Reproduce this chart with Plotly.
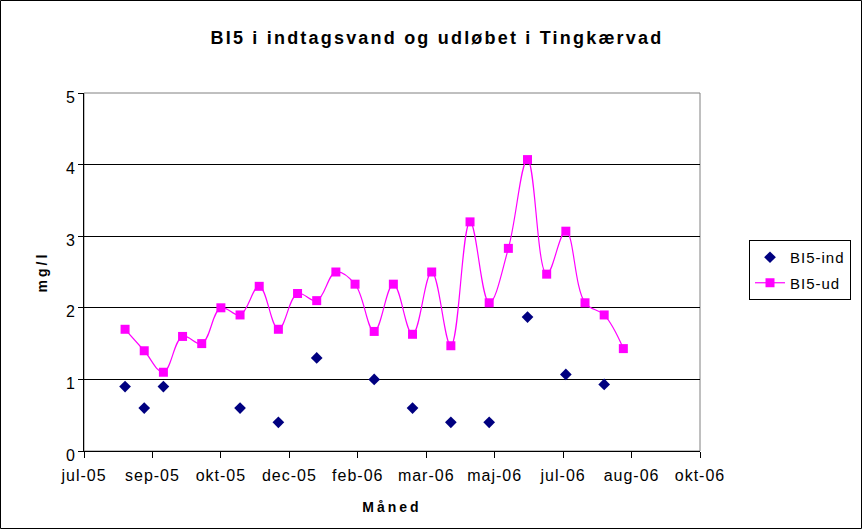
import plotly.graph_objects as go

# ---- data ----
ud_dates = ["2005-08-18", "2005-09-01", "2005-09-15", "2005-09-29", "2005-10-13",
            "2005-10-27", "2005-11-10", "2005-11-24", "2005-12-08", "2005-12-22",
            "2006-01-05", "2006-01-19", "2006-02-02", "2006-02-16", "2006-03-02",
            "2006-03-16", "2006-03-30", "2006-04-13", "2006-04-27", "2006-05-11",
            "2006-05-25", "2006-06-08", "2006-06-22", "2006-07-06", "2006-07-20",
            "2006-08-03", "2006-08-17"]
ud_values = [1.7, 1.4, 1.1, 1.6, 1.5, 2.0, 1.9, 2.3, 1.7, 2.2,
             2.1, 2.5, 2.33, 1.67, 2.33, 1.63, 2.5, 1.47, 3.2, 2.07,
             2.83, 4.07, 2.47, 3.07, 2.07, 1.9, 1.43]

ind_dates = ["2005-08-18", "2005-09-01", "2005-09-15", "2005-11-10", "2005-12-08",
             "2006-01-05", "2006-02-16", "2006-03-16", "2006-04-13", "2006-05-11",
             "2006-06-08", "2006-07-06", "2006-08-03"]
ind_values = [0.9, 0.6, 0.9, 0.6, 0.4, 1.3, 1.0, 0.6, 0.4, 0.4, 1.87, 1.07, 0.93]

tick_dates = ["2005-07-19", "2005-09-07", "2005-10-27", "2005-12-16", "2006-02-04",
              "2006-03-26", "2006-05-15", "2006-07-04", "2006-08-23", "2006-10-12"]
tick_labels = ["jul-05", "sep-05", "okt-05", "dec-05", "feb-06",
               "mar-06", "maj-06", "jul-06", "aug-06", "okt-06"]
y_ticks = [0, 1, 2, 3, 4, 5]

FONT = "Arial, Liberation Sans, sans-serif"
W, H = 863, 530
ML, MR, MT, MB = 84, 163, 93, 79


def spaced(text, px):
    return '<span style="letter-spacing:%spx">%s</span>' % (px, text)


fig = go.Figure()
fig.add_trace(go.Scatter(
    x=ind_dates, y=ind_values, mode="markers", name=spaced("BI5-ind", 1),
    legendgroup="ind",
    marker=dict(symbol="diamond", size=9, color="#000080"),
))
fig.add_trace(go.Scatter(
    x=ud_dates, y=ud_values, mode="lines+markers", name=spaced("BI5-ud", 1),
    legendgroup="ud",
    line=dict(color="#FF00FF", width=1.2, shape="spline", smoothing=1.1),
    marker=dict(symbol="square", size=9, color="#FF00FF"),
))

pw = W - ML - MR
ph = H - MT - MB
shapes = [
    dict(type="rect", xref="paper", yref="paper", x0=0, y0=0, x1=1, y1=1,
         line=dict(color="#808080", width=1), layer="below"),
    dict(type="rect", xref="paper", yref="paper",
         x0=-(ML - 0.5) / pw, x1=1 + (MR - 1.5) / pw,
         y0=-(MB - 1.5) / ph, y1=1 + (MT - 0.5) / ph,
         line=dict(color="black", width=1)),
]

fig.update_layout(
    width=W, height=H, autosize=False,
    margin=dict(l=ML, r=MR, t=MT, b=MB, pad=0),
    paper_bgcolor="white", plot_bgcolor="white",
    font=dict(family=FONT, size=15, color="black"),
    title=dict(text="<b>" + spaced("BI5 i indtagsvand og udløbet i Tingkærvad", 2.2) + "</b>",
               x=(437 / W), xanchor="center", y=1 - 38 / H, yanchor="middle",
               font=dict(family=FONT, size=18, color="black")),
    showlegend=True,
    legend=dict(x=(749 - ML) / pw, y=(H - MB - 240) / ph, xanchor="left", yanchor="top",
                bordercolor="black", borderwidth=1, bgcolor="white",
                font=dict(family=FONT, size=15, color="black"),
                itemwidth=30, tracegroupgap=3),
    shapes=shapes,
)

fig.update_xaxes(
    type="date", range=[tick_dates[0], tick_dates[-1]],
    tickmode="array", tickvals=tick_dates,
    ticktext=[spaced(t, 1) for t in tick_labels],
    showgrid=False, zeroline=False, automargin=False,
    showline=True, linecolor="black", linewidth=1,
    ticks="outside", ticklen=6, tickcolor="black",
    tickfont=dict(family=FONT, size=16),
    ticklabelstandoff=4,
    title=dict(text="<b>" + spaced("Måned", 3) + "</b>", font=dict(family=FONT, size=14),
               standoff=18),
)
fig.update_yaxes(
    range=[0, 5], tickmode="array", tickvals=y_ticks,
    ticktext=[str(v) for v in y_ticks],
    showgrid=True, gridcolor="black", gridwidth=1,
    zeroline=False, automargin=False,
    showline=True, linecolor="black", linewidth=1,
    ticks="outside", ticklen=5, tickcolor="black",
    tickfont=dict(family=FONT, size=16),
    ticklabelshift=4,
    title=dict(text="<b>" + spaced("mg/l", 3) + "</b>", font=dict(family=FONT, size=14),
               standoff=14),
)

fig.write_html("out.html", config={"displayModeBar": False, "responsive": False},
               post_script="document.body.style.margin='0';")
